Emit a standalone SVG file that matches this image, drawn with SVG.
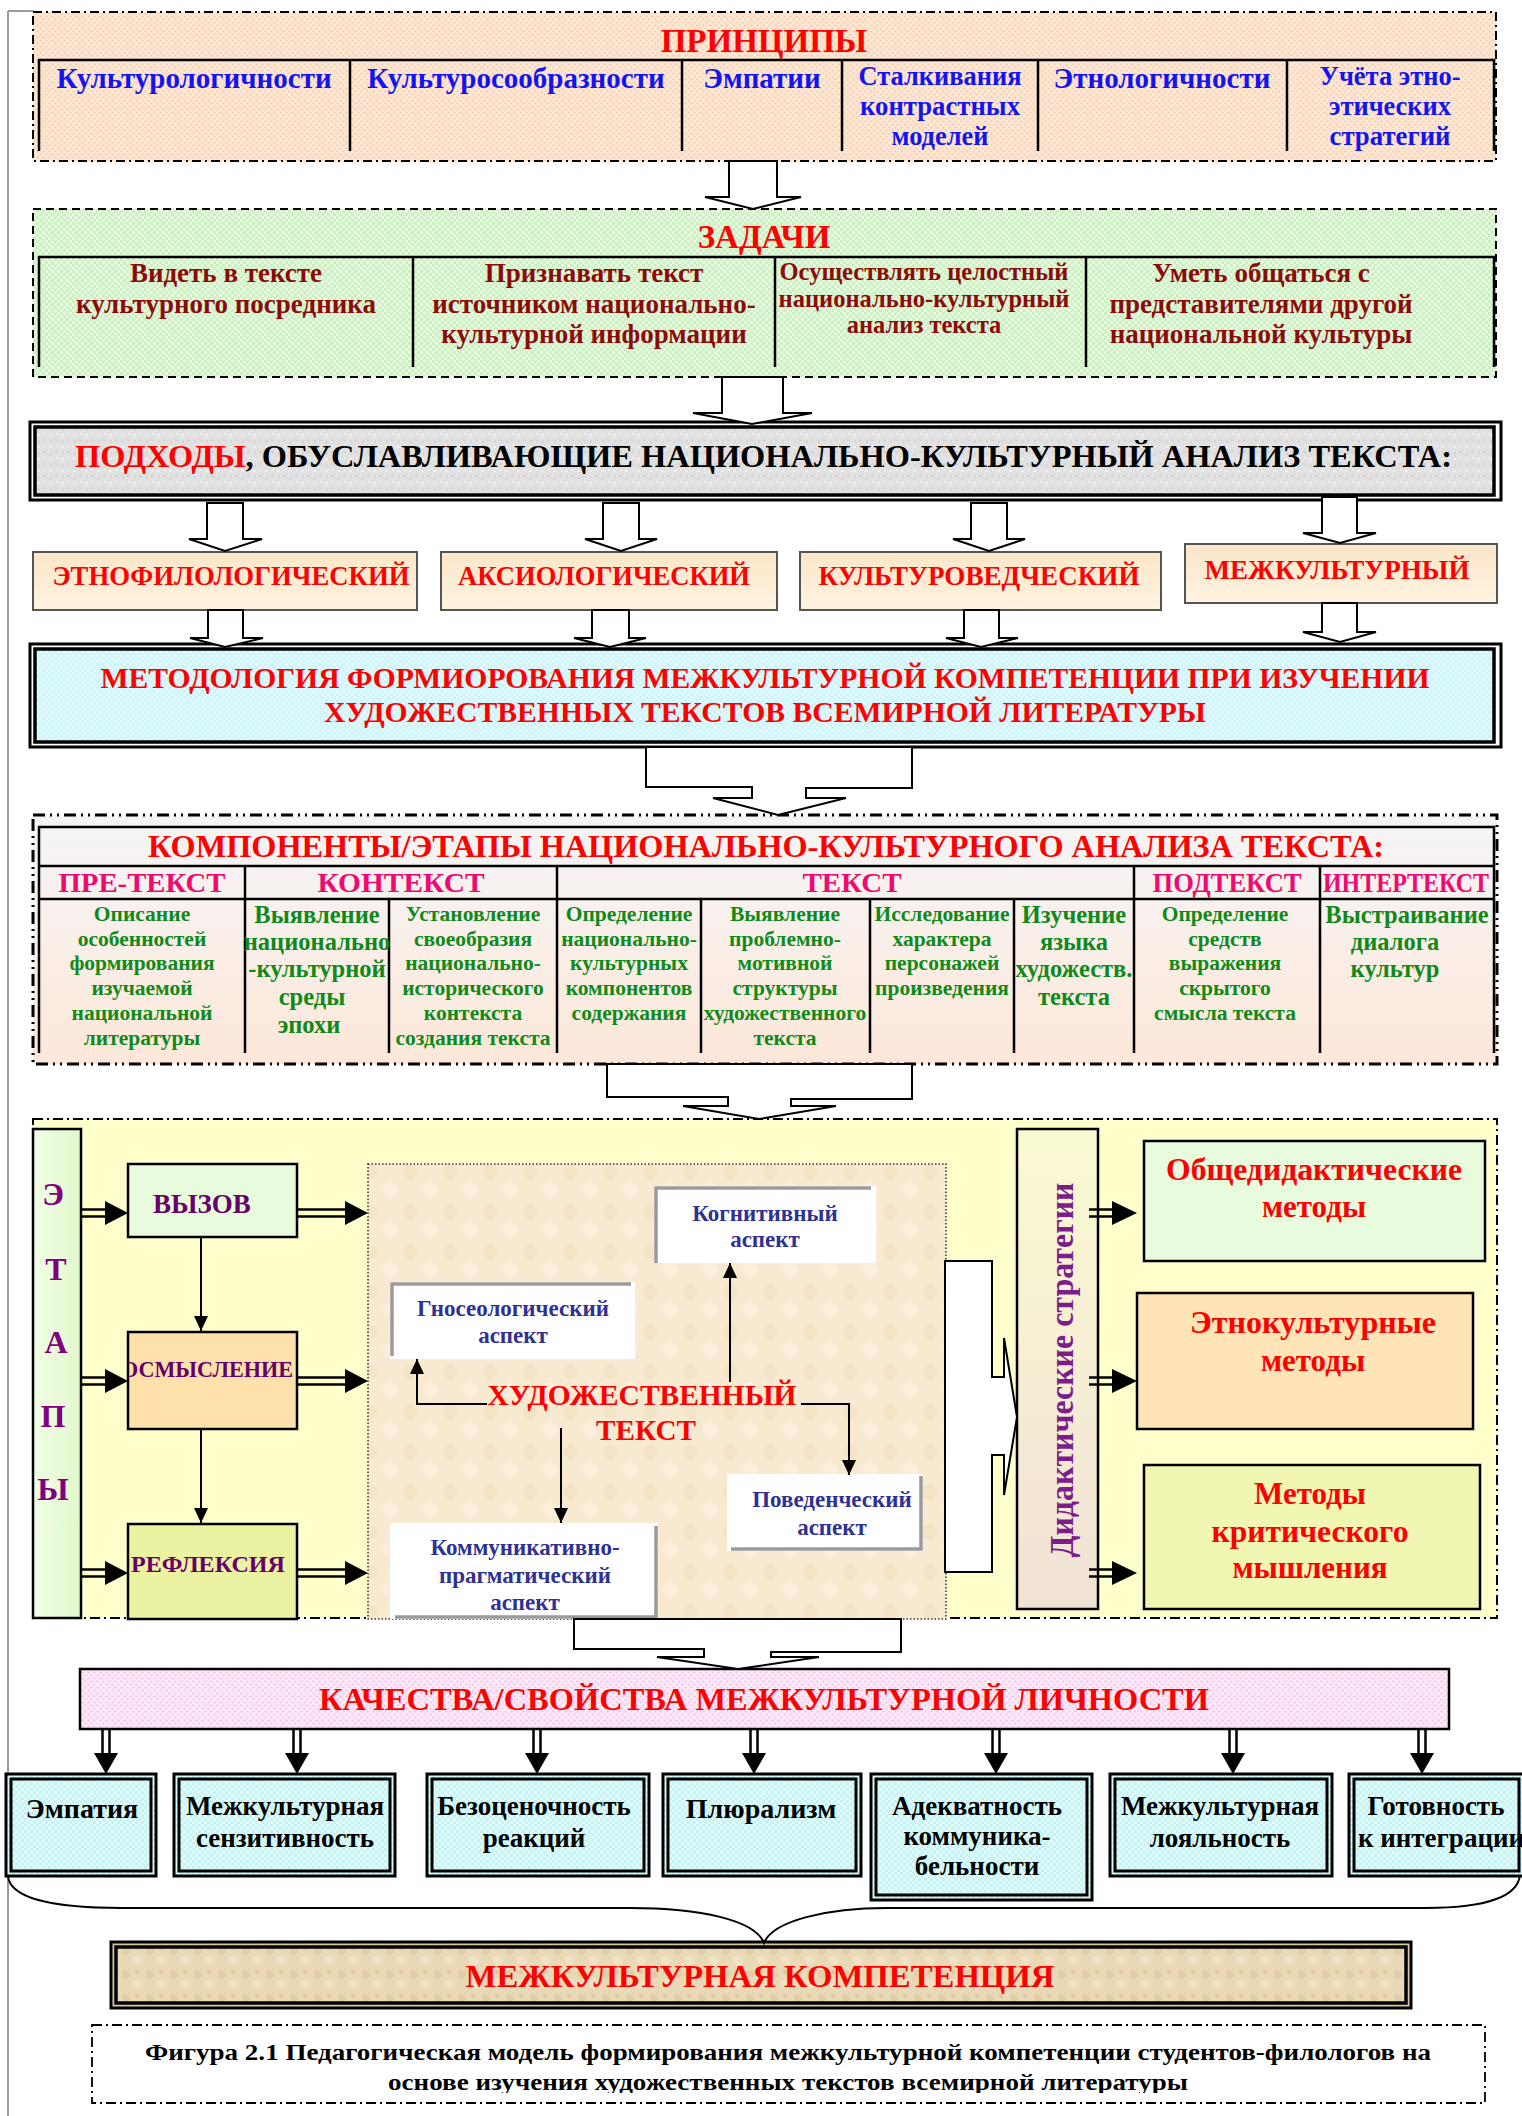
<svg xmlns="http://www.w3.org/2000/svg" width="1522" height="2116" viewBox="0 0 1522 2116">
<defs>
<style>
.t{font-family:"Liberation Serif","Times New Roman",serif;font-weight:bold}
.c{text-anchor:middle}
.red{fill:#ff0000}
.blue{fill:#1414f0}
.dred{fill:#8b0a0a}
.grn{fill:#0f8a1a}
.pnk{fill:#ee0a6e}
.pur{fill:#800080}
.asp{fill:#2f3192}
.blk{fill:#000}
.ln{stroke:#000;stroke-width:2.5;fill:none}
.thin{stroke:#000;stroke-width:2;fill:none}
.blockarrow{fill:#fff;stroke:#000;stroke-width:2}
.head{fill:#000}
.dbl{stroke:#000;stroke-width:2.5}
.gray{stroke:#9a9a9a;stroke-width:3.5;fill:none}
.qbox{fill:url(#cyanchk);stroke:#000;stroke-width:3}
.qin{fill:none;stroke:#000;stroke-width:3}
</style>
<pattern id="peach" width="6" height="6" patternUnits="userSpaceOnUse"><rect width="6" height="6" fill="#fde6d3"/><circle cx="1.5" cy="1.5" r="1.1" fill="#f6cba8"/><circle cx="4.5" cy="4.5" r="1.1" fill="#f6cba8"/></pattern>
<pattern id="green" width="6" height="6" patternUnits="userSpaceOnUse"><rect width="6" height="6" fill="#e6f9df"/><rect width="3" height="3" fill="#cdefc4"/><rect x="3" y="3" width="3" height="3" fill="#cdefc4"/></pattern>
<pattern id="cyan" width="6" height="6" patternUnits="userSpaceOnUse"><rect width="6" height="6" fill="#cff5fa"/><circle cx="1.5" cy="1.5" r="1.2" fill="#f4fdff"/><circle cx="4.5" cy="4.5" r="1.2" fill="#f4fdff"/></pattern>
<pattern id="pink" width="6" height="6" patternUnits="userSpaceOnUse"><rect width="6" height="6" fill="#fce8f8"/><circle cx="1.5" cy="1.5" r="1.1" fill="#f3c2e7"/><circle cx="4.5" cy="4.5" r="1.1" fill="#f3c2e7"/></pattern>
<pattern id="cyanchk" width="6" height="6" patternUnits="userSpaceOnUse"><rect width="6" height="6" fill="#e0fcfc"/><rect width="3" height="3" fill="#c6f2f2"/><rect x="3" y="3" width="3" height="3" fill="#c6f2f2"/></pattern>
<pattern id="grayTex" width="12" height="12" patternUnits="userSpaceOnUse"><rect width="12" height="12" fill="#e1e1e1"/><rect x="1" y="2" width="3" height="2" fill="#efefef"/><rect x="7" y="7" width="3" height="2" fill="#d2d2d2"/><rect x="8" y="1" width="2" height="2" fill="#ececec"/><rect x="2" y="8" width="2" height="3" fill="#d6d6d6"/></pattern>
<pattern id="tanTex" width="24" height="24" patternUnits="userSpaceOnUse"><rect width="24" height="24" fill="#ead9b6"/><circle cx="6" cy="6" r="4" fill="#e2cea6"/><circle cx="18" cy="16" r="5" fill="#f0e2c4"/><circle cx="17" cy="4" r="2" fill="#dcc79c"/></pattern>
<pattern id="beigeTex" width="40" height="40" patternUnits="userSpaceOnUse"><rect width="40" height="40" fill="#f8e9d1"/><circle cx="10" cy="12" r="7" fill="#f5e3c6"/><circle cx="30" cy="30" r="8" fill="#fbefdc"/></pattern>
<linearGradient id="apprG" x1="0" y1="0" x2="0" y2="1"><stop offset="0" stop-color="#fce6c8"/><stop offset="1" stop-color="#fff3e0"/></linearGradient>
<linearGradient id="compG" x1="0" y1="0" x2="0" y2="1"><stop offset="0" stop-color="#f4f4f4"/><stop offset="0.35" stop-color="#f8f1ee"/><stop offset="1" stop-color="#fde7d8"/></linearGradient>
<linearGradient id="etapG" x1="0" y1="0" x2="1" y2="0"><stop offset="0" stop-color="#f1fde6"/><stop offset="1" stop-color="#e2f8cc"/></linearGradient>
<linearGradient id="didG" x1="0" y1="0" x2="0" y2="1"><stop offset="0" stop-color="#fafad2"/><stop offset="1" stop-color="#f2e2d6"/></linearGradient>
<marker id="ah" markerUnits="userSpaceOnUse" markerWidth="16" markerHeight="16" refX="15" refY="7" orient="auto"><path d="M0,0 L15,7 L0,14 z" fill="#000"/></marker>
<clipPath id="osmClip"><rect x="128" y="1332" width="169" height="97"/></clipPath>
<clipPath id="capClip"><rect x="0" y="2000" width="1522" height="93"/></clipPath>
</defs>
<rect width="1522" height="2116" fill="#fff"/>
<path d="M8,11 V2116 M8,11 H34" stroke="#9a9a9a" stroke-width="2" fill="none"/>

<g id="principles">
<rect x="33" y="12" width="1463" height="149" fill="url(#peach)" stroke="#000" stroke-width="2" stroke-dasharray="9 4 2 4"/>
<text class="t c red" x="764" y="52" font-size="33">ПРИНЦИПЫ</text>
<path class="ln" d="M39,151 V60 H1494 V151 M350,60 V151 M682,60 V151 M842,60 V151 M1038,60 V151 M1287,60 V151"/>
<g class="t c blue" font-size="29">
<text x="194" y="88">Культурологичности</text>
<text x="516" y="88">Культуросообразности</text>
<text x="762" y="88">Эмпатии</text>
<text x="1162" y="88">Этнологичности</text>
</g>
<g class="t c blue" font-size="27">
<text x="940" y="85" textLength="163" lengthAdjust="spacingAndGlyphs">Сталкивания</text>
<text x="940" y="115" textLength="160" lengthAdjust="spacingAndGlyphs">контрастных</text>
<text x="940" y="145" textLength="97" lengthAdjust="spacingAndGlyphs">моделей</text>
<text x="1390" y="85" textLength="141" lengthAdjust="spacingAndGlyphs">Учёта этно-</text>
<text x="1390" y="115" textLength="122" lengthAdjust="spacingAndGlyphs">этических</text>
<text x="1390" y="145" textLength="121" lengthAdjust="spacingAndGlyphs">стратегий</text>
</g>
</g>

<g id="tasks">
<rect x="33" y="209" width="1463" height="168" fill="url(#green)" stroke="#000" stroke-width="2" stroke-dasharray="8 5"/>
<text class="t c red" x="764" y="248" font-size="33">ЗАДАЧИ</text>
<path class="ln" d="M39,367 V257 H1494 V367 M413,257 V367 M775,257 V367 M1086,257 V367"/>
<g class="t c dred" font-size="27">
<text x="226" y="282">Видеть в тексте</text>
<text x="226" y="313">культурного посредника</text>
<text x="594" y="282">Признавать текст</text>
<text x="594" y="313">источником национально-</text>
<text x="594" y="343">культурной  информации</text>
<text x="1261" y="282">Уметь общаться с</text>
<text x="1261" y="313">представителями другой</text>
<text x="1261" y="343">национальной культуры</text>
</g>
<g class="t c dred" font-size="24.5">
<text x="924" y="280">Осуществлять целостный</text>
<text x="924" y="307">национально-культурный</text>
<text x="924" y="333">анализ текста</text>
</g>
</g>

<g id="approaches-title">
<rect x="30" y="422" width="1471" height="78" fill="#fff" stroke="#000" stroke-width="3"/>
<rect x="35" y="427" width="1459" height="68" fill="url(#grayTex)" stroke="#000" stroke-width="3.5"/>
<text class="t blk" x="75" y="467" font-size="31" textLength="1377" lengthAdjust="spacingAndGlyphs"><tspan class="red">ПОДХОДЫ</tspan>, ОБУСЛАВЛИВАЮЩИЕ НАЦИОНАЛЬНО-КУЛЬТУРНЫЙ АНАЛИЗ ТЕКСТА:</text>
</g>

<g id="approach-ethno">
<rect x="33" y="552" width="384" height="58" fill="url(#apprG)" stroke="#555" stroke-width="2"/>
<text class="t c red" x="231" y="585" font-size="27" textLength="357" lengthAdjust="spacingAndGlyphs">ЭТНОФИЛОЛОГИЧЕСКИЙ</text>
</g>
<g id="approach-axio">
<rect x="441" y="552" width="336" height="58" fill="url(#apprG)" stroke="#555" stroke-width="2"/>
<text class="t c red" x="604" y="585" font-size="27" textLength="292" lengthAdjust="spacingAndGlyphs">АКСИОЛОГИЧЕСКИЙ</text>
</g>
<g id="approach-cult">
<rect x="800" y="552" width="361" height="58" fill="url(#apprG)" stroke="#555" stroke-width="2"/>
<text class="t c red" x="979" y="585" font-size="27" textLength="321" lengthAdjust="spacingAndGlyphs">КУЛЬТУРОВЕДЧЕСКИЙ</text>
</g>
<g id="approach-inter">
<rect x="1185" y="544" width="312" height="59" fill="url(#apprG)" stroke="#555" stroke-width="2"/>
<text class="t c red" x="1337" y="579" font-size="27" textLength="265" lengthAdjust="spacingAndGlyphs">МЕЖКУЛЬТУРНЫЙ</text>
</g>

<g id="methodology">
<rect x="30" y="644" width="1471" height="103" fill="#fff" stroke="#000" stroke-width="3"/>
<rect x="35" y="649" width="1459" height="93" fill="url(#cyan)" stroke="#000" stroke-width="3.5"/>
<g class="t c red" font-size="29">
<text x="765" y="688" textLength="1329" lengthAdjust="spacingAndGlyphs">МЕТОДОЛОГИЯ ФОРМИОРОВАНИЯ МЕЖКУЛЬТУРНОЙ КОМПЕТЕНЦИИ ПРИ ИЗУЧЕНИИ</text>
<text x="765" y="722" textLength="882" lengthAdjust="spacingAndGlyphs">ХУДОЖЕСТВЕННЫХ ТЕКСТОВ ВСЕМИРНОЙ ЛИТЕРАТУРЫ</text>
</g>
</g>

<g id="components">
<rect x="33" y="815" width="1464" height="249" fill="url(#compG)" stroke="#000" stroke-width="3" stroke-dasharray="12 5 2 5 2 5"/>
<path class="ln" d="M39,1053 V827 H1494 V1053 M39,866 H1494 M39,899 H1494 M245,866 V1053 M557,866 V1053 M1134,866 V1053 M1320,866 V1053 M389,899 V1053 M701,899 V1053 M870,899 V1053 M1014,899 V1053"/>
<text class="t c red" x="766" y="857" font-size="31" textLength="1236" lengthAdjust="spacingAndGlyphs">КОМПОНЕНТЫ/ЭТАПЫ НАЦИОНАЛЬНО-КУЛЬТУРНОГО АНАЛИЗА ТЕКСТА:</text>
<g class="t c pnk" font-size="27">
<text x="142" y="892" textLength="167" lengthAdjust="spacingAndGlyphs">ПРЕ-ТЕКСТ</text>
<text x="401" y="892" textLength="167" lengthAdjust="spacingAndGlyphs">КОНТЕКСТ</text>
<text x="852" y="892" textLength="99" lengthAdjust="spacingAndGlyphs">ТЕКСТ</text>
<text x="1227" y="892" textLength="149" lengthAdjust="spacingAndGlyphs">ПОДТЕКСТ</text>
<text x="1406" y="892" textLength="166" lengthAdjust="spacingAndGlyphs">ИНТЕРТЕКСТ</text>
</g>
<g class="t c grn" font-size="21.5">
<text x="142" y="921">Описание</text>
<text x="142" y="946">особенностей</text>
<text x="142" y="970">формирования</text>
<text x="142" y="995">изучаемой</text>
<text x="142" y="1020">национальной</text>
<text x="142" y="1045">литературы</text>
<text x="473" y="921">Установление</text>
<text x="473" y="946">своеобразия</text>
<text x="473" y="970">национально-</text>
<text x="473" y="995">исторического</text>
<text x="473" y="1020">контекста</text>
<text x="473" y="1045">создания текста</text>
<text x="629" y="921">Определение</text>
<text x="629" y="946">национально-</text>
<text x="629" y="970">культурных</text>
<text x="629" y="995">компонентов</text>
<text x="629" y="1020">содержания</text>
<text x="785" y="921">Выявление</text>
<text x="785" y="946">проблемно-</text>
<text x="785" y="970">мотивной</text>
<text x="785" y="995">структуры</text>
<text x="785" y="1020">художественного</text>
<text x="785" y="1045">текста</text>
<text x="942" y="921">Исследование</text>
<text x="942" y="946">характера</text>
<text x="942" y="970">персонажей</text>
<text x="942" y="995">произведения</text>
<text x="1225" y="921">Определение</text>
<text x="1225" y="946">средств</text>
<text x="1225" y="970">выражения</text>
<text x="1225" y="995">скрытого</text>
<text x="1225" y="1020">смысла текста</text>
</g>
<g class="t c grn" font-size="24.5">
<text x="317" y="923">Выявление</text>
<text x="317" y="950">национально</text>
<text x="317" y="977">-культурной</text>
<text x="312" y="1005">среды</text>
<text x="309" y="1033">эпохи</text>
<text x="1074" y="923">Изучение</text>
<text x="1074" y="950">языка</text>
<text x="1074" y="977">художеств.</text>
<text x="1074" y="1005">текста</text>
<text x="1407" y="923">Выстраивание</text>
<text x="1395" y="950">диалога</text>
<text x="1395" y="977">культур</text>
</g>
</g>

<g id="stages-frame">
<rect x="33" y="1119" width="1464" height="499" fill="#ffffcc" stroke="#000" stroke-width="2" stroke-dasharray="10 4 2 4"/>
</g>

<g id="etapy">
<rect x="33" y="1129" width="48" height="489" fill="url(#etapG)" stroke="#000" stroke-width="2.5"/>
<g class="t c pur" font-size="32">
<text x="53" y="1205">Э</text>
<text x="56" y="1280">Т</text>
<text x="56" y="1353">А</text>
<text x="53" y="1427">П</text>
<text x="53" y="1500">Ы</text>
</g>
</g>

<g id="vyzov">
<rect x="128" y="1164" width="169" height="73" fill="#e8fbdc" stroke="#000" stroke-width="2.5"/>
<text class="t c" x="202" y="1213" font-size="27" fill="#660066">ВЫЗОВ</text>
</g>
<g id="osmyslenie">
<rect x="128" y="1332" width="169" height="97" fill="#fee0ab" stroke="#000" stroke-width="2.5"/>
<text class="t c" x="207" y="1377" font-size="23" fill="#660066" clip-path="url(#osmClip)" textLength="172" lengthAdjust="spacingAndGlyphs">ОСМЫСЛЕНИЕ</text>
</g>
<g id="refleksiya">
<rect x="128" y="1524" width="169" height="95" fill="#ebf2a2" stroke="#000" stroke-width="2.5"/>
<text class="t c" x="208" y="1572" font-size="24" fill="#660066" textLength="154" lengthAdjust="spacingAndGlyphs">РЕФЛЕКСИЯ</text>
</g>

<g id="art-text-area">
<rect x="368" y="1164" width="578" height="455" fill="url(#beigeTex)" stroke="#333" stroke-width="1.5" stroke-dasharray="1.5 2"/>
<text class="t c red" x="642" y="1405" font-size="30" textLength="309" lengthAdjust="spacingAndGlyphs">ХУДОЖЕСТВЕННЫЙ</text>
<text class="t c red" x="646" y="1440" font-size="30" textLength="100" lengthAdjust="spacingAndGlyphs">ТЕКСТ</text>
</g>

<g id="aspect-cognitive">
<rect x="654" y="1186" width="222" height="77" fill="#fff"/>
<path class="gray" d="M656,1263 V1188 H871"/>
<g class="t c asp" font-size="23"><text x="765" y="1221">Когнитивный</text><text x="765" y="1247">аспект</text></g>
</g>
<g id="aspect-gnoseo">
<rect x="390" y="1282" width="245" height="77" fill="#fff"/>
<path class="gray" d="M392,1356 V1284 H631"/>
<g class="t c asp" font-size="23"><text x="513" y="1316">Гносеологический</text><text x="513" y="1343">аспект</text></g>
</g>
<g id="aspect-behav">
<rect x="727" y="1474" width="196" height="77" fill="#fff"/>
<path class="gray" d="M921,1476 V1549 H731"/>
<g class="t c asp" font-size="23"><text x="832" y="1507">Поведенческий</text><text x="832" y="1535">аспект</text></g>
</g>
<g id="aspect-comm">
<rect x="390" y="1523" width="268" height="96" fill="#fff"/>
<path class="gray" d="M656,1526 V1617 H395"/>
<g class="t c asp" font-size="23"><text x="525" y="1555">Коммуникативно-</text><text x="525" y="1583">прагматический</text><text x="525" y="1610">аспект</text></g>
</g>

<g id="didactic">
<rect x="1017" y="1129" width="81" height="480" fill="url(#didG)" stroke="#000" stroke-width="2.5"/>
<text class="t c" transform="translate(1073,1370) rotate(-90)" font-size="34" fill="#7b1e8c" textLength="375" lengthAdjust="spacingAndGlyphs">Дидактические стратегии</text>
</g>

<g id="method-general">
<rect x="1144" y="1141" width="341" height="120" fill="#e8fbdc" stroke="#000" stroke-width="2.5"/>
<g class="t c red" font-size="31"><text x="1314" y="1180" textLength="296" lengthAdjust="spacingAndGlyphs">Общедидактические</text><text x="1314" y="1217">методы</text></g>
</g>
<g id="method-ethno">
<rect x="1137" y="1293" width="336" height="136" fill="#fee4b6" stroke="#000" stroke-width="2.5"/>
<g class="t c red" font-size="31"><text x="1313" y="1333" textLength="246" lengthAdjust="spacingAndGlyphs">Этнокультурные</text><text x="1313" y="1371">методы</text></g>
</g>
<g id="method-critical">
<rect x="1144" y="1465" width="336" height="144" fill="#f1f6b2" stroke="#000" stroke-width="2.5"/>
<g class="t c red" font-size="31"><text x="1310" y="1504">Методы</text><text x="1310" y="1542" textLength="197" lengthAdjust="spacingAndGlyphs">критического</text><text x="1310" y="1578">мышления</text></g>
</g>

<g id="qualities-title">
<rect x="80" y="1669" width="1369" height="60" fill="url(#pink)" stroke="#000" stroke-width="2.5"/>
<text class="t c red" x="764" y="1710" font-size="31" textLength="890" lengthAdjust="spacingAndGlyphs">КАЧЕСТВА/СВОЙСТВА МЕЖКУЛЬТУРНОЙ ЛИЧНОСТИ</text>
</g>

<g id="q-empathy"><rect class="qbox" x="6" y="1774" width="150" height="102"/><rect class="qin" x="11" y="1779" width="140" height="92"/>
<text class="t c blk" x="82" y="1818" font-size="28">Эмпатия</text></g>
<g id="q-sensitivity"><rect class="qbox" x="174" y="1774" width="221" height="102"/><rect class="qin" x="179" y="1779" width="211" height="92"/>
<g class="t c blk" font-size="27"><text x="285" y="1815">Межкультурная</text><text x="285" y="1847">сензитивность</text></g></g>
<g id="q-nonjudgment"><rect class="qbox" x="427" y="1774" width="222" height="102"/><rect class="qin" x="432" y="1779" width="212" height="92"/>
<g class="t c blk" font-size="27"><text x="534" y="1815">Безоценочность</text><text x="534" y="1847">реакций</text></g></g>
<g id="q-pluralism"><rect class="qbox" x="663" y="1774" width="198" height="102"/><rect class="qin" x="668" y="1779" width="188" height="92"/>
<text class="t c blk" x="761" y="1818" font-size="28">Плюрализм</text></g>
<g id="q-adequacy"><rect class="qbox" x="871" y="1774" width="221" height="126"/><rect class="qin" x="876" y="1779" width="211" height="116"/>
<g class="t c blk" font-size="27"><text x="977" y="1815">Адекватность</text><text x="977" y="1845">коммуника-</text><text x="977" y="1875">бельности</text></g></g>
<g id="q-loyalty"><rect class="qbox" x="1110" y="1774" width="222" height="102"/><rect class="qin" x="1115" y="1779" width="212" height="92"/>
<g class="t c blk" font-size="27"><text x="1220" y="1815">Межкультурная</text><text x="1220" y="1847">лояльность</text></g></g>
<g id="q-integration"><rect class="qbox" x="1349" y="1774" width="180" height="102"/><rect class="qin" x="1354" y="1779" width="165" height="92"/>
<g class="t c blk" font-size="27"><text x="1436" y="1815">Готовность</text><text x="1441" y="1847">к интеграции</text></g></g>

<g id="competence">
<rect x="111" y="1942" width="1300" height="66" fill="#d8c7a6" stroke="#000" stroke-width="3"/>
<rect x="116" y="1947" width="1290" height="56" fill="url(#tanTex)" stroke="#000" stroke-width="3.5"/>
<text class="t c red" x="760" y="1987" font-size="31" textLength="589" lengthAdjust="spacingAndGlyphs">МЕЖКУЛЬТУРНАЯ  КОМПЕТЕНЦИЯ</text>
</g>

<g id="caption">
<rect x="92" y="2025" width="1393" height="78" fill="none" stroke="#000" stroke-width="1.8" stroke-dasharray="10 4 2 4"/>
<text class="t c blk" x="788" y="2060" font-size="23" textLength="1286" lengthAdjust="spacingAndGlyphs">Фигура 2.1 Педагогическая модель формирования межкультурной  компетенции студентов-филологов на</text>
<text class="t c blk" x="788" y="2090" font-size="23" textLength="800" lengthAdjust="spacingAndGlyphs" clip-path="url(#capClip)">основе  изучения художественных текстов всемирной литературы</text>
</g>

<g id="connectors">
<polygon class="blockarrow" points="729,161 777,161 777,197 801,197 753,209 705,197 729,197"/>
<polygon class="blockarrow" points="722,377 783,377 783,413 812,413 752,424 693,413 722,413"/>
<polygon class="blockarrow" points="207,503 243,503 243,539 262,539 225,551 189,539 207,539"/>
<polygon class="blockarrow" points="603,503 639,503 639,539 657,539 621,551 585,539 603,539"/>
<polygon class="blockarrow" points="971,503 1007,503 1007,539 1025,539 989,551 953,539 971,539"/>
<polygon class="blockarrow" points="1322,497 1357,497 1357,533 1376,533 1340,543 1303,533 1322,533"/>
<polygon class="blockarrow" points="208,610 243,610 243,638 263,638 225,647 190,638 208,638"/>
<polygon class="blockarrow" points="592,610 629,610 629,638 646,638 610,647 574,638 592,638"/>
<polygon class="blockarrow" points="964,610 999,610 999,638 1018,638 981,647 946,638 964,638"/>
<polygon class="blockarrow" points="1322,603 1357,603 1357,632 1376,632 1340,642 1303,632 1322,632"/>
<polygon class="blockarrow" points="646,747 912,747 912,788 806,788 806,798 846,798 778,815 713,798 752,798 752,787 646,787"/>
<polygon class="blockarrow" points="607,1064 912,1064 912,1099 791,1099 791,1106 836,1106 759,1119 683,1106 728,1106 728,1097 607,1097"/>
<polygon class="blockarrow" points="574,1619 901,1619 901,1652 771,1652 771,1657 819,1657 738,1669 657,1657 704,1657 704,1649 574,1649"/>
<polygon class="blockarrow" points="945,1261 992,1261 992,1377 1004,1377 1004,1338 1017,1417 1004,1495 1004,1455 992,1455 992,1572 945,1572"/>
<g class="dbl">
<path d="M81,1209.5 H106 M81,1216.5 H106 M81,1377.5 H106 M81,1384.5 H106 M81,1569.5 H106 M81,1576.5 H106"/>
<path d="M297,1209.5 H346 M297,1216.5 H346 M297,1377.5 H346 M297,1384.5 H346 M297,1569.5 H346 M297,1576.5 H346"/>
<path d="M1089,1209.5 H1113 M1089,1216.5 H1113 M1089,1377.5 H1113 M1089,1384.5 H1113 M1089,1569.5 H1113 M1089,1576.5 H1113"/>
<path d="M102.5,1729 V1754 M109.5,1729 V1754 M293.5,1729 V1754 M300.5,1729 V1754 M533.5,1729 V1754 M540.5,1729 V1754 M750.5,1729 V1754 M757.5,1729 V1754 M992.5,1729 V1754 M999.5,1729 V1754 M1229.5,1729 V1754 M1236.5,1729 V1754 M1418.5,1729 V1754 M1425.5,1729 V1754"/>
</g>
<g class="head">
<polygon points="105,1201 128,1213 105,1225"/>
<polygon points="105,1369 128,1381 105,1393"/>
<polygon points="105,1561 128,1573 105,1585"/>
<polygon points="345,1201 368,1213 345,1225"/>
<polygon points="345,1369 368,1381 345,1393"/>
<polygon points="345,1561 368,1573 345,1585"/>
<polygon points="1112,1201 1137,1213 1112,1225"/>
<polygon points="1112,1369 1137,1381 1112,1393"/>
<polygon points="1112,1561 1137,1573 1112,1585"/>
<polygon points="94,1753 118,1753 106,1774"/>
<polygon points="285,1753 309,1753 297,1774"/>
<polygon points="525,1753 549,1753 537,1774"/>
<polygon points="742,1753 766,1753 754,1774"/>
<polygon points="984,1753 1008,1753 996,1774"/>
<polygon points="1221,1753 1245,1753 1233,1774"/>
<polygon points="1410,1753 1434,1753 1422,1774"/>
</g>
<g class="thin" marker-end="url(#ah)">
<path d="M201,1237 V1331"/>
<path d="M201,1429 V1523"/>
<path d="M487,1404 H417 V1359"/>
<path d="M730,1382 V1263"/>
<path d="M801,1404 H849 V1475"/>
<path d="M561,1428 V1523"/>
</g>
<path class="thin" d="M8,1876 C10,1900 60,1908 121,1908 H630 C700,1908 755,1920 764,1943 C773,1920 830,1908 886,1908 H1426 C1490,1908 1518,1895 1520,1875"/>
</g>
</svg>
